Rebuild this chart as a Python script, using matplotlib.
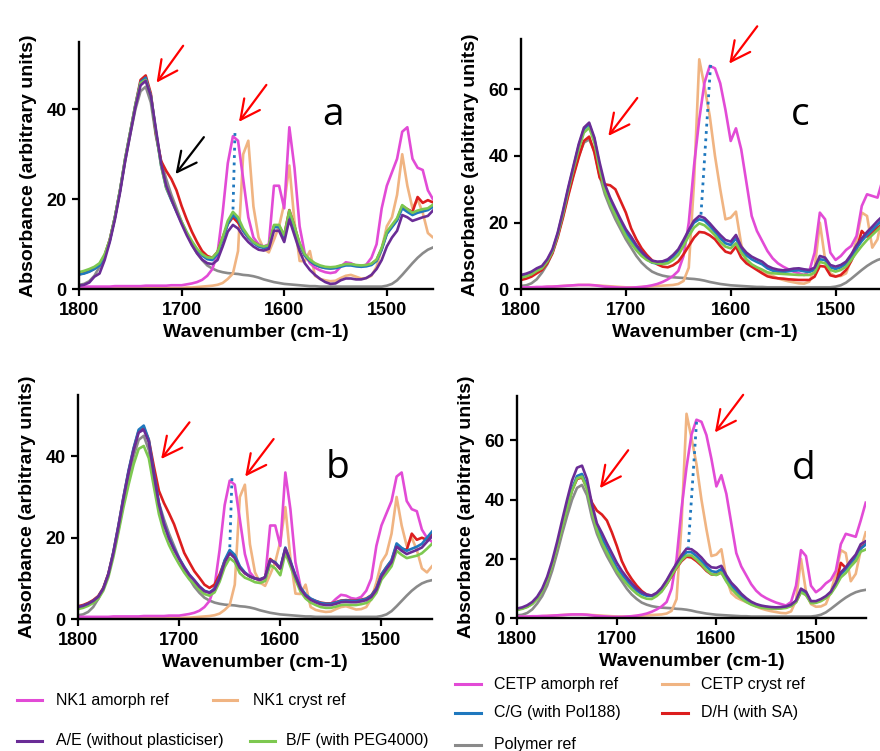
import numpy as np
import matplotlib
matplotlib.use('Agg')
import matplotlib.pyplot as plt
from matplotlib.lines import Line2D

plt.rcParams['font.family'] = ['Liberation Sans', 'DejaVu Sans']

# common wavenumber grid, 1800 -> 1450 cm-1 in 5 cm-1 steps
wavenumber = np.arange(1800, 1449, -5)

# ---- reference spectra ----
polymer_ref = [
    1.0, 1.2, 1.8, 3.0, 5.0, 7.5, 11, 16, 22, 28.5,
    34.5, 40, 44, 45, 41.5, 34, 28.5, 24.5, 21, 18,
    15, 12.5, 10, 8, 6.5, 5.3, 4.6, 4.1, 3.8, 3.6,
    3.5, 3.4, 3.2, 3.1, 2.9, 2.6, 2.2, 1.9, 1.6, 1.4,
    1.2, 1.1, 1.0, 0.9, 0.8, 0.7, 0.7, 0.6, 0.6, 0.6,
    0.6, 0.6, 0.6, 0.6, 0.6, 0.6, 0.6, 0.6, 0.6, 0.6,
    0.8, 1.2, 2.0, 3.2, 4.5, 5.8, 7.0, 8.0, 8.8, 9.3,
    9.6]
nk1_amorph = [
    0.6, 0.6, 0.6, 0.6, 0.6, 0.6, 0.6, 0.7, 0.7, 0.7,
    0.7, 0.7, 0.7, 0.8, 0.8, 0.8, 0.8, 0.8, 0.9, 0.9,
    0.9, 1.1, 1.3, 1.6, 2.1, 3.0, 4.5, 8.0, 17, 28,
    34, 33, 24.5, 16, 11.5, 10, 9.5, 10, 23, 23,
    18, 36, 27, 14, 8, 5.8, 4.8, 4.2, 3.8, 3.6,
    3.8, 5.0, 6.0, 5.8, 5.2, 5.0, 5.5, 7.0, 10, 18,
    23, 26, 29, 35, 36, 29, 27, 26.5, 22, 20,
    19]
nk1_cryst = [
    0.3, 0.3, 0.3, 0.3, 0.3, 0.3, 0.3, 0.3, 0.3, 0.3,
    0.3, 0.3, 0.3, 0.3, 0.3, 0.3, 0.3, 0.3, 0.3, 0.3,
    0.3, 0.4, 0.4, 0.5, 0.6, 0.7, 0.8, 1.0, 1.4, 2.3,
    3.5, 8.5, 30, 33, 18.4, 11.5, 9, 8.2, 11, 14,
    19, 27.5, 15, 6.3, 6.2, 8.5, 3, 2.3, 2.0, 1.8,
    1.9, 2.5, 3.0, 3.2, 2.8, 2.4, 2.5, 3.0, 5, 9,
    14, 16, 21, 30, 23, 18, 20, 17, 12.5, 11.5,
    13]
cetp_amorph = [
    0.6, 0.6, 0.6, 0.7, 0.7, 0.8, 0.8, 0.9, 1.0, 1.1,
    1.2, 1.3, 1.3, 1.3, 1.2, 1.0, 0.8, 0.7, 0.6, 0.5,
    0.5, 0.5, 0.6, 0.7, 0.9, 1.2, 1.6, 2.2, 3.0, 4.0,
    5.5, 10, 20, 37, 51, 62, 67, 66.3, 61.8, 53.8,
    44.5, 48.3, 42, 32, 22, 17.5, 14.5, 11.5, 9.3, 7.8,
    6.8, 6.0, 5.3, 4.8, 4.3, 5.5, 11, 23, 21, 11,
    8.8, 10, 11.8, 13, 16, 25, 28.5, 28, 27.5, 33,
    39]
cetp_cryst = [
    0.4, 0.4, 0.5, 0.5, 0.6, 0.7, 0.8, 0.9, 1.0, 1.1,
    1.2, 1.3, 1.3, 1.3, 1.2, 1.1, 1.0, 0.9, 0.8, 0.7,
    0.6, 0.6, 0.6, 0.7, 0.8, 0.9, 1.0, 1.1, 1.2, 1.3,
    1.6, 2.5, 6.5, 32, 69, 60.8, 52, 40, 30, 21,
    21.5, 23.3, 13.5, 8.5, 7.0, 6.2, 5.5, 4.8, 4.0, 3.3,
    2.8, 2.4, 2.1, 1.8, 1.7, 2.3, 6, 20, 9, 4.8,
    3.9, 4.0, 4.8, 9, 15, 23, 22, 12.5, 15, 23,
    29]

# ---- panel a ----
a_AE = [
    0.8, 1.0, 1.5, 2.8, 3.5, 6.5, 10.5, 15.5, 21.5, 28.5,
    34.5, 40.5, 45.3, 46.3, 43, 35.5, 28, 23, 20, 17.2,
    14.5, 12, 9.8, 8.0, 6.6, 5.8, 5.6, 6.5, 9.5, 12.8,
    14.3, 13.5, 11.8, 10.5, 9.5, 8.8, 8.6, 9.0, 13, 13,
    10.5, 15.5, 12, 8.5, 5.8, 4.3, 3.2, 2.3, 1.6, 1.2,
    1.3, 2.0, 2.4, 2.4, 2.2, 2.2, 2.5, 3.2, 4.5, 6.5,
    9.5, 11.5, 13, 16.5, 16, 15.2, 15.6, 16, 16.3, 17.5,
    18.5]
a_BF = [
    3.8, 4.1, 4.5, 5.0, 5.8, 7.8, 11, 16, 22, 29,
    35, 41, 45.8, 46.5, 43, 35, 27.5, 22.5, 20, 17.5,
    15, 12.7, 10.7, 9.0, 7.8, 7.1, 7.0, 8.3, 11.5, 15.2,
    17.2, 16, 13.5, 11.8, 10.5, 9.8, 9.5, 9.8, 14.3, 14.3,
    12, 17.5, 14, 10.3, 7.8, 6.6, 5.8, 5.3, 5.0, 4.9,
    5.0, 5.3, 5.6, 5.6, 5.4, 5.3, 5.4, 5.7, 6.6, 9.2,
    12.8, 14.3, 15.8, 18.7, 17.8, 17, 17.5, 17.8, 18, 18.8,
    19.5]
a_CG = [
    3.3, 3.5, 3.9, 4.5, 5.3, 7.3, 10.8, 16, 22, 29,
    35, 41, 46, 47, 43, 35, 27.5, 22.5, 19.8, 17.3,
    14.8, 12.5, 10.5, 8.8, 7.5, 6.7, 6.5, 7.8, 11, 14.5,
    16.5, 15.5, 13, 11.5, 10.3, 9.5, 9.2, 9.5, 13.8, 13.8,
    11.5, 16.8, 13.5, 10, 7.5, 6.3, 5.5, 5.0, 4.7, 4.6,
    4.7, 5.0, 5.3, 5.3, 5.1, 5.0, 5.1, 5.4, 6.3, 8.8,
    12.3, 13.8, 15.3, 18, 17.2, 16.5, 17, 17.3, 17.6, 18.3,
    19]
a_DH = [
    3.3, 3.6, 4.0, 4.6, 5.5, 7.5, 11, 16, 22, 29,
    35, 41, 46.5, 47.5, 43.5, 34.5, 28.5, 26.3, 24.5, 22,
    18.5, 15.5, 12.8, 10.5, 8.5, 7.4, 7.0, 8.3, 11.5, 14.5,
    16, 14.8, 13, 11.5, 10.5, 9.8, 9.3, 9.5, 14, 14,
    12, 17.6, 14, 10, 7.5, 6.3, 5.5, 5.0, 4.8, 4.7,
    4.8, 5.2, 5.5, 5.5, 5.3, 5.2, 5.3, 5.6, 6.5, 9.0,
    12.5, 14, 15.5, 18.5, 17.8, 17.2, 20.5, 19.2, 19.8, 19.3,
    20]

# ---- panel b ----
b_AE = [
    3.0, 3.3, 3.8, 4.5, 5.5, 7.5, 11, 16.3, 22.7, 29.6,
    36, 41.5, 45.8, 46.5, 43.5, 35.5, 28.2, 23.3, 19.8, 17.1,
    14.8, 12.7, 10.9, 9.5, 8.0, 6.9, 6.5, 7.3, 10, 14,
    16.2, 15, 12.6, 11.3, 10.5, 10, 9.7, 10.3, 14.5, 13.8,
    12.5, 17.4, 14, 10.5, 7.5, 5.8, 4.8, 4.2, 3.7, 3.5,
    3.5, 3.8, 4.2, 4.3, 4.2, 4.2, 4.4, 4.7, 5.5, 7.2,
    10.5, 12.3, 14, 17.8, 16.8, 16, 16.5, 17, 17.6, 19,
    20.3]
b_BF = [
    2.5, 2.8, 3.3, 4.0, 5.0, 7.0, 10.3, 15.3, 21.3, 27.5,
    33, 38, 41.8, 42.5, 39.5, 32.5, 25.8, 21.3, 18.2, 15.7,
    13.5, 11.5, 9.8, 8.7, 7.3, 6.2, 5.8, 6.6, 9.2, 12.8,
    15, 14, 11.3, 10.2, 9.7, 9.1, 8.9, 9.4, 13.3, 12.5,
    10.8, 16.3, 13, 9.7, 6.8, 5.1, 4.1, 3.5, 3.0, 2.8,
    2.8, 3.1, 3.5, 3.6, 3.5, 3.5, 3.7, 4.0, 4.8, 6.5,
    9.7, 11.3, 13, 16.8, 15.8, 15, 15.3, 15.6, 16.2, 17.3,
    18.5]
b_CG = [
    3.0, 3.3, 3.8, 4.5, 5.5, 7.5, 11, 16.5, 23, 30,
    36.5, 42, 46.5, 47.5, 44, 36, 28.5, 23.5, 20, 17.3,
    15, 12.9, 11, 9.6, 8.1, 7.0, 6.6, 7.5, 10.3, 14.5,
    17, 15.8, 13, 11.5, 10.5, 10, 9.8, 10.3, 14.5, 14,
    12.5, 17.6, 14.3, 10.8, 7.8, 6.1, 5.1, 4.5, 4.0, 3.8,
    3.8, 4.1, 4.5, 4.6, 4.5, 4.5, 4.7, 5.0, 5.8, 7.5,
    11, 12.8, 14.5, 18.6, 17.5, 16.8, 17.3, 17.8, 18.5, 20,
    21.5]
b_DH = [
    3.2, 3.5, 4.0, 4.7, 5.7, 7.7, 11.2, 16.5, 23, 30,
    36.3, 41.8, 46.2, 47, 44, 37.5, 31.5, 28.5, 26, 23.3,
    19.8, 16.3, 14, 11.8, 10.2, 8.5, 7.7, 8.5, 11, 14.3,
    16.3, 15.3, 12.8, 11.3, 10.5, 10, 9.8, 10.3, 14.8, 13.8,
    12.3, 17.2, 14, 10.5, 7.5, 5.9, 5.0, 4.5, 4.1, 3.9,
    3.9, 4.2, 4.6, 4.7, 4.6, 4.6, 4.8, 5.1, 5.9, 7.6,
    11, 12.8, 14.4, 18.2, 17.3, 17, 21, 19.5, 20, 19.5,
    21]

# ---- panel c ----
c_AE = [
    4.3, 4.7, 5.3, 6.3, 7.0, 9.0, 12, 17, 23.5, 30.5,
    37, 43.5, 48.5, 50, 45.5, 38, 31.5, 27.5, 24.2, 21,
    18, 15.8, 13.3, 11.3, 9.7, 8.6, 8.3, 8.4, 9.0, 10.3,
    12, 14.8, 17.8, 20.6, 22, 21.4, 19.8, 18, 16.3, 14.8,
    14.3, 16.3, 12.8, 11, 9.8, 9.0, 8.3, 7.0, 6.3, 5.9,
    5.7, 5.9, 6.2, 6.3, 6.0, 5.8, 6.5, 10, 9.5, 7.3,
    6.8, 7.3, 8.3, 10.5, 13.2, 15.3, 17.2, 18.8, 20.5, 22,
    23.5]
c_BF = [
    3.5, 3.9, 4.5, 5.5, 6.3, 8.3, 11.3, 16.3, 22.5, 29.5,
    36, 42, 47, 48.5, 44, 36, 29.5, 25.5, 22.3, 19,
    16, 13.8, 11.7, 10, 8.8, 8.1, 7.8, 7.6, 7.8, 8.8,
    10.3, 13, 16, 18.5, 19.8, 19.2, 17.8, 16.2, 14.2, 12.8,
    12.3, 13.8, 11, 9.0, 7.5, 6.6, 5.9, 5.1, 4.8, 4.7,
    4.6, 4.5, 4.4, 4.3, 4.3, 4.3, 5.0, 8.2, 7.8, 5.8,
    5.3, 5.8, 6.8, 8.8, 11, 13, 14.8, 16.3, 17.8, 19.3,
    21]
c_CG = [
    3.8, 4.2, 4.8, 5.8, 6.6, 8.6, 11.6, 16.6, 23, 30,
    36.5, 43, 48, 49.5, 45, 37, 30.5, 26.5, 23.3, 20,
    17, 14.7, 12.5, 10.5, 9.0, 8.0, 7.7, 7.8, 8.5, 9.8,
    11.5, 14.3, 17.5, 20, 21, 20.6, 19, 17.2, 15.3, 13.8,
    13.3, 15.3, 12, 10.2, 9.0, 8.2, 7.5, 6.3, 5.6, 5.3,
    5.2, 5.4, 5.6, 5.7, 5.4, 5.2, 5.9, 9.0, 8.8, 6.6,
    6.1, 6.6, 7.6, 9.8, 12.3, 14.5, 16.3, 17.8, 19.4, 21,
    22.5]
c_DH = [
    2.8, 3.2, 3.8, 4.8, 5.8, 7.8, 10.8, 15.6, 21.5, 28,
    34, 39.5, 44.5, 45.8, 41, 33.5, 31.5, 31.2, 30, 26.5,
    23, 18.3, 15, 12.3, 10.3, 8.7, 7.5, 6.8, 6.6, 7.2,
    8.3, 10.5, 13, 15.5, 17.2, 17, 16.2, 15, 13, 11.3,
    10.8, 12.8, 9.5, 7.8, 6.8, 5.8, 4.8, 3.9, 3.5, 3.3,
    3.2, 3.0, 2.9, 2.8, 2.8, 2.8, 3.8, 7.0, 6.8, 4.2,
    3.8, 4.3, 5.8, 8.5, 12, 17.5, 15.8, 17, 18.5, 19.5,
    21]

# ---- panel d ----
d_AE = [
    3.3, 3.7, 4.4, 5.5, 7.3, 10, 14, 19.3, 25.8, 33,
    40, 46.5, 50.8, 51.5, 47, 38.5, 32, 28.8, 25.3, 22,
    18.7, 16, 13.8, 11.8, 10, 8.8, 8.0, 7.7, 8.6, 10.3,
    12.8, 15.8, 18.5, 21.3, 23.5, 23.3, 22.1, 20.5, 18.5, 17.2,
    17, 17.7, 14.5, 12, 10.3, 8.3, 6.8, 5.6, 4.8, 4.3,
    4.0, 3.8, 3.7, 3.8, 4.0, 4.6, 6.0, 10, 9, 5.8,
    5.8, 6.5, 7.5, 9, 12, 15.5, 17.2, 19.5, 21.5, 25,
    26]
d_BF = [
    2.8, 3.2, 3.8, 4.8, 6.5, 9.1, 12.8, 17.8, 24, 30.5,
    37, 43, 47.2, 47.8, 43.5, 36, 29.8, 25.5, 22.3, 19,
    15.9, 13.6, 11.6, 9.8, 8.3, 7.2, 6.6, 6.5, 7.5, 9,
    11.5, 14.5, 17.2, 19.6, 21.2, 21.2, 19.8, 18.2, 16.3, 14.9,
    14.6, 15.4, 12.4, 10, 8.2, 6.7, 5.5, 4.6, 4.0, 3.6,
    3.4, 3.3, 3.2, 3.3, 3.5, 4.1, 5.4, 8.8, 7.8, 5.1,
    5.2, 5.8, 6.8, 8.3, 10.8, 13.8, 15.3, 17.5, 19.3, 22.5,
    23.2]
d_CG = [
    3.0, 3.4, 4.0, 5.0, 6.8, 9.4, 13.2, 18.3, 24.5, 31,
    37.5, 43.7, 48, 48.7, 44.5, 37, 31, 27, 23.5, 20.2,
    17, 14.8, 12.7, 10.8, 9.3, 8.2, 7.6, 7.5, 8.2, 9.8,
    12.5, 15.3, 18.2, 20.5, 22.3, 22.3, 21, 19.3, 17.5, 15.9,
    15.6, 16.6, 13.5, 11, 9.4, 7.6, 6.2, 5.2, 4.5, 4.1,
    3.8, 3.6, 3.5, 3.6, 3.8, 4.4, 5.7, 9.3, 8.5, 5.5,
    5.5, 6.2, 7.2, 8.7, 11.5, 14.8, 16.5, 18.8, 20.7, 23.5,
    24.9]
d_DH = [
    3.0, 3.4, 4.0, 5.0, 6.7, 9.3, 13, 18, 24.2, 30.8,
    37.3, 43.2, 47, 47.5, 44, 39, 36.3, 35, 33, 29,
    24.4, 19.3, 15.8, 13.2, 11, 9.2, 8.0, 7.6, 7.9, 9.3,
    11.5, 14.2, 17, 19.3, 20.8, 20.5, 19.3, 17.8, 16, 14.8,
    14.7, 15.5, 12.8, 10.5, 9, 7.3, 6.0, 5.0, 4.3, 3.9,
    3.6, 3.4, 3.4, 3.5, 3.7, 4.3, 5.5, 9.0, 8.0, 5.4,
    5.4, 6.0, 7.0, 8.6, 11.3, 18.7, 17, 18.8, 20.5, 23.8,
    25]

col_amorph = '#E24BD6'
col_cryst = '#F0B482'
col_polymer = '#8A8A8A'
col_AE = '#6A2C96'
col_BF = '#7DC850'
col_CG = '#1F78BE'
col_DH = '#DC1E1E'

W, H = 880, 751
fig = plt.figure(figsize=(W / 100, H / 100), dpi=100)


def px_axes(left, top, right, bottom):
    return fig.add_axes([left / W, 1 - bottom / H, (right - left) / W, (bottom - top) / H])


def draw_panel(ax, amorph, cryst, samples, xright, ytop, yticks):
    lw = 1.9
    ax.plot(wavenumber, polymer_ref, color=col_polymer, lw=lw)
    ax.plot(wavenumber, cryst, color=col_cryst, lw=lw)
    ax.plot(wavenumber, amorph, color=col_amorph, lw=lw)
    for values, c in zip(samples, [col_DH, col_CG, col_BF, col_AE]):
        ax.plot(wavenumber, values, color=c, lw=lw)
    ax.set_xlim(1800, xright)
    ax.set_ylim(0, ytop)
    ax.set_xticks([1800, 1700, 1600, 1500])
    ax.set_yticks(yticks)
    for s in ['top', 'right']:
        ax.spines[s].set_visible(False)
    for s in ['left', 'bottom']:
        ax.spines[s].set_linewidth(1.7)
    ax.tick_params(direction='out', length=5, width=1.6, pad=4, labelsize=13)
    for lab in ax.get_xticklabels() + ax.get_yticklabels():
        lab.set_fontweight('bold')
    ax.set_xlabel('Wavenumber (cm-1)', fontsize=14, fontweight='bold', labelpad=4)
    ax.set_ylabel('Absorbance (arbitrary units)', fontsize=14, fontweight='bold', labelpad=7)


def arrow(ax, tail, head, color='red'):
    ax.annotate('', xy=head, xytext=tail, annotation_clip=False,
                arrowprops=dict(arrowstyle='->,head_length=0.7,head_width=0.35',
                                color=color, lw=1.6, mutation_scale=20,
                                shrinkA=0, shrinkB=0))


def dotted(ax, p1, p2):
    ax.plot([p1[0], p2[0]], [p1[1], p2[1]], ':', color=col_CG, lw=2)


def letter(ax, x, y, s):
    ax.text(x, y, s, fontsize=28, family='Open Sans', ha='center', va='center')


# panel a (top left)
ax_a = px_axes(79, 41.7, 433, 289.3)
draw_panel(ax_a, nk1_amorph, nk1_cryst, [a_DH, a_CG, a_BF, a_AE], 1455, 55, [0, 20, 40])
dotted(ax_a, (1648, 34.7), (1650, 17))
arrow(ax_a, (1698.5, 54.1), (1724.4, 45.9))
arrow(ax_a, (1617.4, 45.4), (1644.1, 37.2))
arrow(ax_a, (1678.3, 33.8), (1705.9, 25.6), color='black')
letter(ax_a, 1552, 38.7, 'a')

# panel c (top right)
ax_c = px_axes(521, 39.3, 888, 289.3)
draw_panel(ax_c, cetp_amorph, cetp_cryst, [c_DH, c_CG, c_BF, c_AE], 1450, 75, [0, 20, 40, 60])
dotted(ax_c, (1619.2, 67.3), (1628.7, 20.8))
arrow(ax_c, (1689.1, 57.4), (1716.7, 46.0))
arrow(ax_c, (1574.7, 78.9), (1601.4, 67.7))
letter(ax_c, 1534, 52.3, 'c')

# panel b (bottom left)
ax_b = px_axes(78, 395, 432, 619.3)
draw_panel(ax_b, nk1_amorph, nk1_cryst, [b_DH, b_CG, b_BF, b_AE], 1450, 55, [0, 20, 40])
dotted(ax_b, (1647.8, 34.6), (1650, 17))
arrow(ax_b, (1689.8, 48.3), (1717.8, 39.3))
arrow(ax_b, (1606.6, 44.2), (1634.7, 35.0))
letter(ax_b, 1543, 37.1, 'b')

# panel d (bottom right)
ax_d = px_axes(517.3, 396, 865.7, 618.3)
draw_panel(ax_d, cetp_amorph, cetp_cryst, [d_DH, d_CG, d_BF, d_AE], 1450, 75, [0, 20, 40, 60])
dotted(ax_d, (1619.9, 66.3), (1628.3, 23.8))
arrow(ax_d, (1688.6, 56.7), (1717, 43.9))
arrow(ax_d, (1573.1, 75.4), (1601.5, 62.7))
letter(ax_d, 1512, 50.4, 'd')

# legends below the panels, (line start, line end, text x, y) in pixels
legend_items = [
    (17, 42, 56, 700, col_amorph, 'NK1 amorph ref'),
    (213, 237, 253, 700, col_cryst, 'NK1 cryst ref'),
    (17, 42, 56, 741, col_AE, 'A/E (without plasticiser)'),
    (250, 275, 286, 741, col_BF, 'B/F (with PEG4000)'),
    (455, 481, 494, 684, col_amorph, 'CETP amorph ref'),
    (662, 688, 701, 684, col_cryst, 'CETP cryst ref'),
    (455, 481, 494, 713, col_CG, 'C/G (with Pol188)'),
    (662, 688, 701, 713, col_DH, 'D/H (with SA)'),
    (455, 481, 494, 745, col_polymer, 'Polymer ref'),
]
for x0, x1, tx, y, c, label in legend_items:
    fig.add_artist(Line2D([x0 / W, x1 / W], [1 - y / H, 1 - y / H], color=c, lw=2.2,
                          transform=fig.transFigure))
    fig.text(tx / W, 1 - y / H, label, fontsize=11.5, ha='left', va='center')

fig.savefig('out.png', dpi=100)
